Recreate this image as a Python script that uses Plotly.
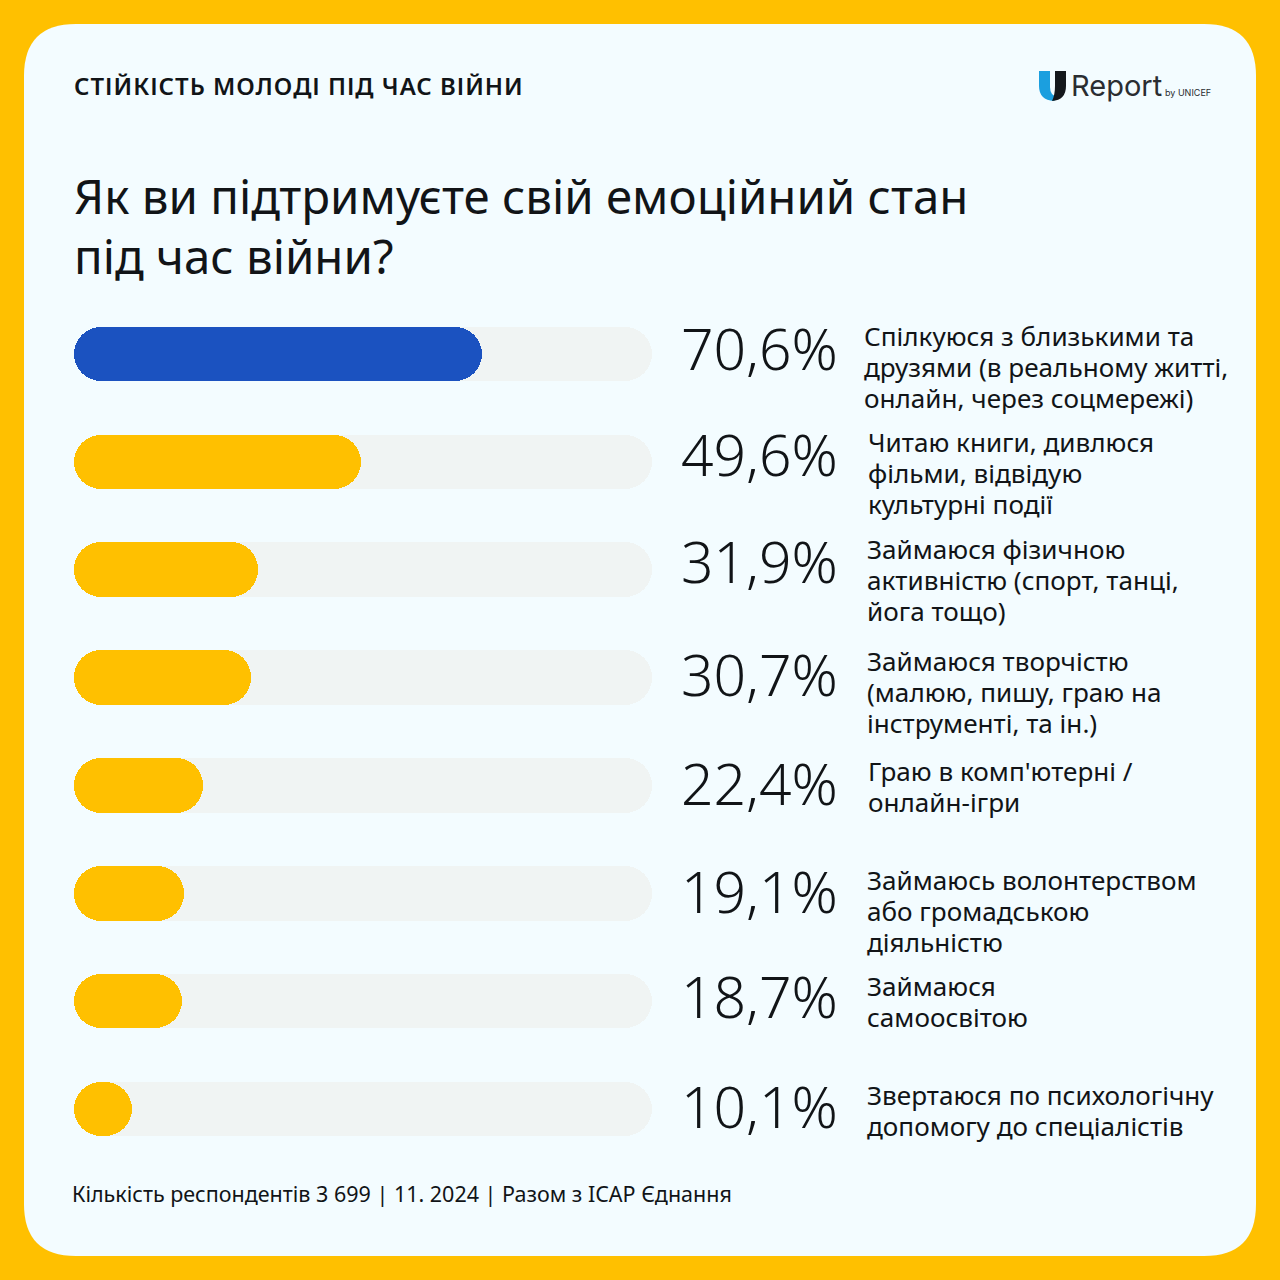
import plotly.graph_objects as go

categories = [
    "Спілкуюся з близькими та<br>друзями (в реальному житті,<br>онлайн, через соцмережі)",
    "Читаю книги, дивлюся<br>фільми, відвідую<br>культурні події",
    "Займаюся фізичною<br>активністю (спорт, танці,<br>йога тощо)",
    "Займаюся творчістю<br>(малюю, пишу, граю на<br>інструменті, та ін.)",
    "Граю в комп'ютерні /<br>онлайн-ігри",
    "Займаюсь волонтерством<br>або громадською<br>діяльністю",
    "Займаюся<br>самоосвітою",
    "Звертаюся по психологічну<br>допомогу до спеціалістів",
]
values = [70.6, 49.6, 31.9, 30.7, 22.4, 19.1, 18.7, 10.1]
value_labels = ["70,6%", "49,6%", "31,9%", "30,7%", "22,4%", "19,1%", "18,7%", "10,1%"]
track = [100] * 8

W = 1280
YELLOW = "#FFC000"
BLUE = "#1B52C0"
CARD = "#F3FCFF"
INK = "#111417"

# text placement, in page pixels
label_x = [864, 868, 867, 867, 868, 867, 867, 867]
label_y = [336, 442, 549, 661, 771, 880, 986, 1095]  # first line of each label
pct_y = [348, 454, 561, 674, 783, 891, 996, 1106]
LINE_STEP = 30.8


def px(x):
    return x / W


def py(y):
    return 1 - y / W


def to_path(cmds):
    # path given in page pixels -> paper coordinates
    out = []
    for c in cmds:
        if isinstance(c, str):
            out.append(c)
        else:
            out.append(f"{px(c[0]):.5f},{py(c[1]):.5f}")
    return " ".join(out)


def round_rect(x0, y0, x1, y1, r):
    return to_path([
        "M", (x0 + r, y0), "L", (x1 - r, y0), "Q", (x1, y0), (x1, y0 + r),
        "L", (x1, y1 - r), "Q", (x1, y1), (x1 - r, y1),
        "L", (x0 + r, y1), "Q", (x0, y1), (x0, y1 - r),
        "L", (x0, y0 + r), "Q", (x0, y0), (x0 + r, y0), "Z",
    ])


rows = list(range(len(values)))

fig = go.Figure()
# an explicit base makes plotly round both ends of the bar
fig.add_trace(go.Bar(y=rows, x=track, base=0, orientation="h", width=0.505,
                     marker=dict(color="#F0F4F3", cornerradius=27, line_width=0),
                     hoverinfo="skip"))
# values sit on their own overlaid axis, a shared one loses the rounded ends
fig.add_trace(go.Bar(y=rows, x=values, base=0, orientation="h", width=0.505, yaxis="y2",
                     marker=dict(color=[BLUE] + [YELLOW] * 7, cornerradius=27, line_width=0),
                     customdata=value_labels,
                     hovertemplate="%{customdata}<extra></extra>"))

shapes = [
    dict(type="path", xref="paper", yref="paper", layer="below", line_width=0,
         fillcolor=CARD, path=round_rect(24, 24, 1256, 1256, 52)),
    # U logo
    dict(type="path", xref="paper", yref="paper", layer="above", line_width=0, fillcolor="#1B9FDF",
         path=to_path(["M", (1039, 71), "L", (1050, 71), "L", (1050, 87), "Q", (1050, 96), (1058, 97),
                       "L", (1054, 101), "Q", (1039, 100), (1039, 86), "Z"])),
    dict(type="path", xref="paper", yref="paper", layer="above", line_width=0, fillcolor="#14181C",
         path=to_path(["M", (1055, 71), "L", (1066, 71), "L", (1066, 86), "Q", (1066, 100), (1052, 101),
                       "Q", (1055, 95), (1055, 86), "Z"])),
]


def note(x, y, text, size, color=INK, anchor="left", weight=400, family="Noto Sans"):
    return dict(x=px(x), y=py(y), xref="paper", yref="paper", text=text, showarrow=False,
                xanchor=anchor, yanchor="middle", align="left", borderpad=0, borderwidth=0,
                font=dict(size=size, color=color, family=family, weight=weight))


annotations = [
    note(74, 86, "СТІЙКІСТЬ МОЛОДІ ПІД ЧАС ВІЙНИ", 24, weight=600),
    note(73.5, 196, "Як ви підтримуєте свій емоційний стан", 47.4),
    note(73.5, 256, "під час війни?", 47.4),
    note(71.5, 1193, "Кількість респондентів 3 699 | 11. 2024 | Разом з ICAP Єднання", 21.5),
    note(1071, 86, "Report", 29, color="#2A2D31", family="Inter"),
    note(1165, 92, "by UNICEF", 9, color="#2A2D31", family="Inter"),
]
for i in rows:
    annotations.append(note(838, pct_y[i], value_labels[i], 57, anchor="right", weight=300))
    for n, line in enumerate(categories[i].split("<br>")):
        annotations.append(note(label_x[i], label_y[i] + n * LINE_STEP, line, 26.1))

fig.update_layout(
    width=W, height=W, margin=dict(l=0, r=0, t=0, b=0),
    paper_bgcolor=YELLOW, plot_bgcolor="rgba(0,0,0,0)",
    barmode="overlay", bargap=0, showlegend=False,
    shapes=shapes, annotations=annotations,
    xaxis=dict(domain=[px(74), px(652)], range=[0, 100], visible=False, fixedrange=True),
    yaxis=dict(domain=[py(1163), py(300)], range=[7.5, -0.5], visible=False, fixedrange=True),
    yaxis2=dict(domain=[py(1163), py(300)], range=[7.5, -0.5], visible=False, fixedrange=True,
                overlaying="y"),
)

post = """
document.body.style.margin='0';document.body.style.overflow='hidden';
document.querySelector('.annotation-text').style.letterSpacing='1px';
"""
fig.write_html("out.html", config={"displayModeBar": False}, post_script=post)
